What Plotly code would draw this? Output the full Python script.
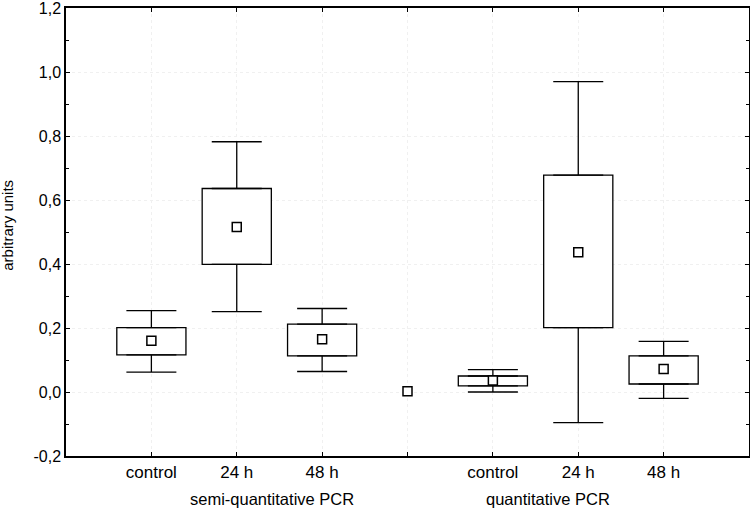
import plotly.graph_objects as go

# === DATA ===
positions = [1, 2, 3, 5, 6, 7]
categories = ['control', '24 h', '48 h', 'control', '24 h', '48 h']
means = [0.160, 0.516, 0.165, 0.036, 0.437, 0.072]
box_low = [0.116, 0.399, 0.113, 0.019, 0.201, 0.025]
box_high = [0.201, 0.636, 0.212, 0.050, 0.678, 0.113]
whisker_low = [0.062, 0.251, 0.064, 0.000, -0.096, -0.020]
whisker_high = [0.254, 0.782, 0.261, 0.070, 0.970, 0.158]

# lone point between the two groups
extra_pos = [4]
extra_val = [0.002]

group_labels = ['semi-quantitative PCR', 'quantitative PCR']
group_pos = [2.41, 5.64]

x_tickvals = [1, 2, 3, 4, 5, 6, 7]
x_ticktext = ['control', '24 h', '48 h', '', 'control', '24 h', '48 h']
y_tickvals = [-0.2, 0.0, 0.2, 0.4, 0.6, 0.8, 1.0, 1.2]
y_ticktext = ['-0,2', '0,0', '0,2', '0,4', '0,6', '0,8', '1,0', '1,2']

FONT = 'Liberation Sans, Arial, sans-serif'
LW = 1.3

fig = go.Figure()

# whiskers: from box edges out to whisker ends
fig.add_trace(go.Scatter(
    x=positions, y=box_high, mode='markers',
    marker=dict(size=1, color='rgba(0,0,0,0)'),
    error_y=dict(type='data', symmetric=False,
                 array=[h - b for h, b in zip(whisker_high, box_high)],
                 arrayminus=[0] * len(positions),
                 color='black', thickness=LW, width=25),
    hoverinfo='skip', showlegend=False,
))
fig.add_trace(go.Scatter(
    x=positions, y=box_low, mode='markers',
    marker=dict(size=1, color='rgba(0,0,0,0)'),
    error_y=dict(type='data', symmetric=False,
                 array=[0] * len(positions),
                 arrayminus=[b - l for b, l in zip(box_low, whisker_low)],
                 color='black', thickness=LW, width=25),
    hoverinfo='skip', showlegend=False,
))

# boxes
fig.add_trace(go.Bar(
    x=positions,
    base=box_low,
    y=[h - l for h, l in zip(box_high, box_low)],
    width=0.81,
    marker=dict(color='white', line=dict(color='black', width=LW)),
    hoverinfo='skip', showlegend=False,
))

# mean markers
fig.add_trace(go.Scatter(
    x=positions + extra_pos,
    y=means + extra_val,
    mode='markers',
    marker=dict(symbol='square', size=9, color='white',
                line=dict(color='black', width=1.5)),
    showlegend=False,
))

for lbl, xp in zip(group_labels, group_pos):
    fig.add_annotation(
        x=xp, xref='x', y=-0.096, yref='paper',
        text=lbl, showarrow=False, xanchor='center', yanchor='middle',
        font=dict(family=FONT, size=16.5, color='black'),
    )

fig.add_annotation(
    x=-0.085, xref='paper', y=0.516, yref='paper',
    text='arbitrary units', textangle=-90, showarrow=False,
    xanchor='center', yanchor='middle',
    font=dict(family=FONT, size=15, color='black'),
)

fig.update_xaxes(
    range=[0, 8], automargin=False,
    tickvals=x_tickvals, ticktext=x_ticktext,
    ticks='inside', ticklen=4, tickcolor='black',
    showline=True, linecolor='black', linewidth=1.5, mirror='ticks',
    showgrid=True, gridcolor='#f0f0f0', griddash='dot', gridwidth=1,
    zeroline=False,
    tickfont=dict(family=FONT, size=17, color='black'),
)
fig.update_yaxes(
    range=[-0.2, 1.2], automargin=False,
    tickvals=y_tickvals, ticktext=y_ticktext,
    ticklabeloverflow='allow',
    ticks='inside', ticklen=4, tickcolor='black',
    minor=dict(ticks='inside', ticklen=3, dtick=0.1, tick0=0, tickcolor='black', showgrid=False),
    showline=True, linecolor='black', linewidth=1.5, mirror='ticks',
    showgrid=True, gridcolor='#f0f0f0', griddash='dot', gridwidth=1,
    zeroline=False,
    tickfont=dict(family=FONT, size=16, color='black'),
)

fig.update_layout(
    width=750, height=509,
    margin=dict(l=66, r=1, t=8, b=53),
    plot_bgcolor='white', paper_bgcolor='white',
    font=dict(family=FONT, color='black'),
    showlegend=False,
    barmode='overlay',
)

# drop the browser's default body margin so the figure sits at the page corner
fig.write_html("out.html", config={'displayModeBar': False},
               post_script="document.body.style.margin='0';")
